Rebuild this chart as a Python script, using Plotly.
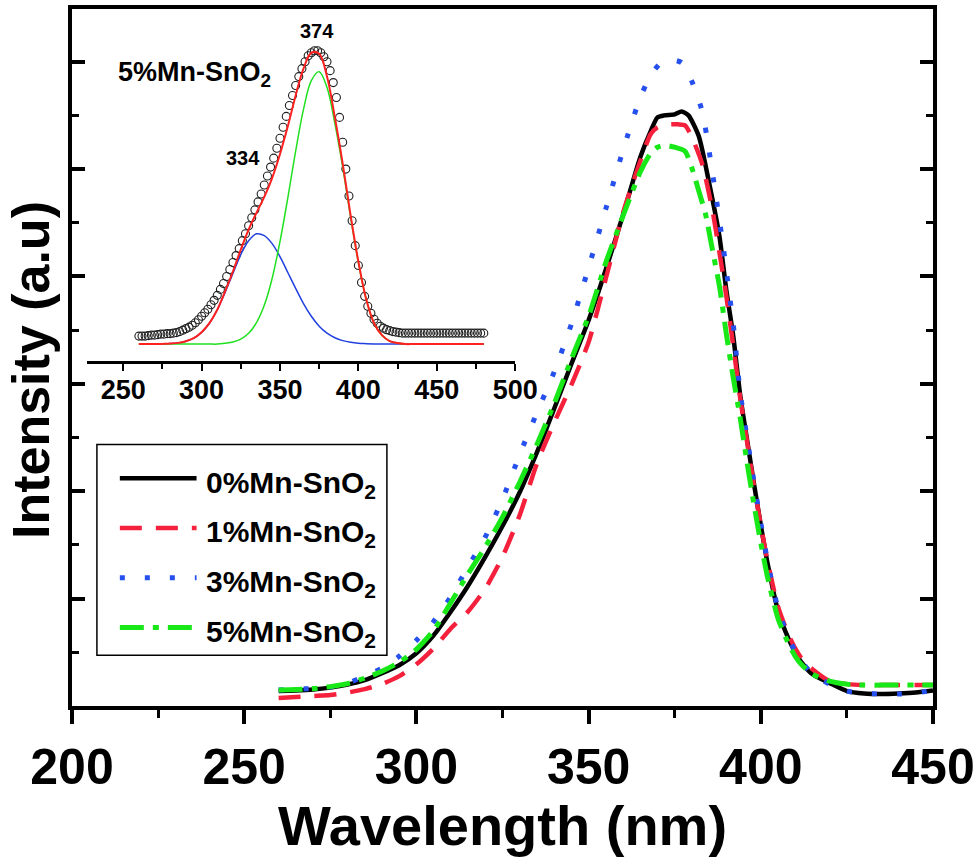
import plotly.graph_objects as go

# ---------------- main spectra (intensity in a.u.) ----------------
wl_0 = [260, 265, 270, 275, 280, 285, 290, 295, 300, 305, 310, 315, 320, 325, 330, 335, 340, 345, 350, 355,
        360, 365, 368, 370, 372, 375, 377, 379, 382, 385, 388, 390, 392, 394, 396, 398, 400, 402, 405, 408,
        410, 412, 415, 420, 425, 430, 435, 440, 445, 450]
int_0 = [15, 15.5, 16.5, 18.5, 21.5, 26, 33, 41, 53, 71, 95, 121, 150, 181, 215, 255, 299, 344, 388, 439,
         494, 552, 578, 592, 594, 595, 598, 594, 573, 526, 472, 418, 372, 313, 268, 224, 182, 143, 96, 68,
         54, 43, 32, 23, 15, 12.5, 12, 12.5, 13.5, 15.5]

wl_1 = [260, 265, 270, 275, 280, 285, 290, 295, 300, 305, 310, 315, 320, 325, 330, 335, 340, 345, 350, 355,
        360, 365, 368, 370, 373, 376, 378, 380, 383, 386, 388, 390, 392, 394, 396, 398, 400, 402, 405, 408,
        410, 412, 415, 420, 425, 430, 435, 440, 445, 450]
int_1 = [8, 9, 10, 11, 13.5, 17, 22, 30, 42, 58, 78, 95, 118, 150, 192, 244, 285, 323, 366, 430,
         496, 548, 575, 582, 585, 585, 584, 572, 545, 498, 456, 412, 362, 310, 266, 222, 182, 145, 100, 72,
         58, 47, 37, 25, 22, 21, 21, 21, 21, 21]

wl_3 = [260, 265, 270, 275, 280, 285, 290, 295, 300, 305, 310, 315, 320, 325, 330, 335, 340, 345, 350, 355,
        360, 365, 368, 371, 374, 377, 380, 383, 385, 387, 389, 391, 392, 394, 396, 398, 400, 402, 405, 408,
        410, 412, 415, 420, 425, 430, 435, 440, 445, 450]
int_3 = [16, 17, 17.5, 19, 23, 30, 38, 50, 66, 85, 110, 140, 170, 208, 253, 295, 336, 384, 441, 500,
         559, 612, 634, 647, 650, 647, 628, 598, 558, 512, 464, 411, 384, 316, 270, 226, 184, 145, 98, 69,
         55, 44, 32, 22, 15, 13, 12, 12, 13, 16]

wl_5 = [260, 265, 270, 275, 280, 285, 290, 295, 300, 305, 310, 315, 320, 325, 330, 335, 340, 345, 350, 355,
        360, 365, 368, 370, 372, 375, 378, 380, 382, 384, 386, 388, 390, 392, 394, 396, 398, 400, 402, 405,
        408, 410, 412, 415, 420, 425, 430, 435, 440, 445, 450]
int_5 = [16, 16.5, 17.5, 19.5, 22.5, 28, 35, 44, 57, 76, 104, 133, 160, 190, 225, 263, 304, 349, 392, 446,
         493, 537, 556, 562, 564, 562, 558, 541, 518, 494, 458, 422, 374, 330, 290, 245, 203, 164, 129, 88,
         63, 50, 41, 32, 25, 22, 21, 21, 21, 21, 21]

series_names = ["0%Mn-SnO<sub>2</sub>", "1%Mn-SnO<sub>2</sub>", "3%Mn-SnO<sub>2</sub>", "5%Mn-SnO<sub>2</sub>"]
series_x = [wl_0, wl_1, wl_3, wl_5]
series_y = [int_0, int_1, int_3, int_5]
series_color = ["#000000", "#f5203c", "#2550ee", "#18e818"]
series_dash = ["solid", "22px,14px", "5px,20px", "24px,9px,6px,9px"]
series_width = [4.5, 4.5, 5, 5]

# ---------------- inset: 5% Mn-SnO2 with Gaussian fit ----------------
wl_c = list(range(260, 482, 2))
int_c = [8, 8, 8, 8.5, 9, 9, 9.5, 10, 10, 10.5, 10.5, 11, 11.5, 12.5, 14, 15.5, 17, 19, 21.5, 24.5,
         28, 31.5, 35, 39.5, 44, 49, 55, 61, 68, 75, 82, 89, 96, 104, 111, 119, 127, 135, 143, 151,
         160, 169, 178, 187, 197, 207, 218, 229, 240, 250, 260, 269, 277, 284, 290, 293, 295, 295, 293, 289,
         284, 275, 263, 248, 228, 203, 176, 149, 124, 99, 79, 62, 48, 38, 31, 25, 21, 18, 16, 14.5,
         13.5, 12.5, 12, 11.5, 11, 11, 11, 11, 11, 11, 11, 11, 11, 11, 11, 11, 11, 11, 11, 11,
         11, 11, 11, 11, 11, 11, 11, 11, 11, 11, 11]

wl_fit = list(range(260, 485, 5))
fit_blue = [0, 0, 0, 0.2, 0.5, 1.2, 2.9, 6, 11.8, 21, 34.5, 52, 71, 90, 104, 110.9, 109, 101, 88, 72,
            56, 40.8, 28, 18, 11, 6.4, 3.5, 1.8, 0.8, 0.4, 0.15, 0, 0, 0, 0, 0, 0, 0, 0, 0,
            0, 0, 0, 0, 0]
fit_green = [0, 0, 0, 0, 0, 0, 0, 0, 0, 0, 0, 0.85, 2.1, 5, 10.8, 21.5, 39, 66, 103, 147,
             194, 236, 265, 274, 258, 222, 178, 128, 82, 45, 21, 9, 3, 1, 0, 0, 0, 0, 0, 0,
             0, 0, 0, 0, 0]
fit_sum = [0, 0, 0, 0.2, 0.5, 1.2, 2.9, 6, 12, 21, 34.5, 53, 73, 95, 115, 132, 148, 167, 191, 219,
           250, 277, 293, 292, 269, 228, 181.5, 130, 83, 45, 21, 9, 3, 1, 0, 0, 0, 0, 0, 0,
           0, 0, 0, 0, 0]

FONT = "Liberation Sans"

fig = go.Figure()

for name, xs, ys, col, dash, w in zip(series_names, series_x, series_y, series_color, series_dash, series_width):
    fig.add_trace(go.Scatter(x=xs, y=ys, mode="lines", name=name,
                             line=dict(color=col, dash=dash, width=w, shape="spline", smoothing=0.6),
                             xaxis="x", yaxis="y", showlegend=False))

fig.add_trace(go.Scatter(x=wl_c, y=int_c, mode="markers", name="5%Mn-SnO2 data",
                         marker=dict(symbol="circle-open", size=8, color="#202020", line=dict(width=1.1)),
                         xaxis="x2", yaxis="y2", showlegend=False))
fig.add_trace(go.Scatter(x=wl_fit, y=fit_blue, mode="lines", name="334 nm",
                         line=dict(color="#2040e0", width=1.5, shape="spline"),
                         xaxis="x2", yaxis="y2", showlegend=False))
fig.add_trace(go.Scatter(x=wl_fit, y=fit_green, mode="lines", name="374 nm",
                         line=dict(color="#20e020", width=1.5, shape="spline"),
                         xaxis="x2", yaxis="y2", showlegend=False))
fig.add_trace(go.Scatter(x=wl_fit, y=fit_sum, mode="lines", name="fit",
                         line=dict(color="#ff2020", width=2, shape="spline"),
                         xaxis="x2", yaxis="y2", showlegend=False))

# pixel helpers for paper coordinates (plot area 72..936 x 5..706)
def px(x):
    return (x - 72) / 864.0

def py(y):
    return (706 - y) / 701.0

shapes = []
annotations = []

# manual legend box
shapes.append(dict(type="rect", xref="paper", yref="paper", x0=px(97), x1=px(388), y0=py(655), y1=py(443),
                   line=dict(color="black", width=1.5), fillcolor="white", layer="above"))
row_y = [477, 527, 577, 627]
for name, col, dash, w, ry in zip(series_names, series_color, series_dash, series_width, row_y):
    shapes.append(dict(type="line", xref="paper", yref="paper", x0=px(120), x1=px(197), y0=py(ry), y1=py(ry),
                       line=dict(color=col, dash=dash, width=w), layer="above"))
    annotations.append(dict(text=name, xref="paper", yref="paper", x=px(204), y=py(ry + 6),
                            xanchor="left", yanchor="middle", showarrow=False,
                            font=dict(family=FONT, size=30, weight="bold", color="black")))

# inset labels
annotations.append(dict(text="5%Mn-SnO<sub>2</sub>", xref="x2", yref="y2", x=245.5, y=272,
                        xanchor="left", yanchor="middle", showarrow=False,
                        font=dict(family=FONT, size=27, weight="bold", color="black")))
annotations.append(dict(text="374", xref="x2", yref="y2", x=373.4, y=315, xanchor="center", yanchor="middle",
                        showarrow=False, font=dict(family=FONT, size=20, weight="bold", color="black")))
annotations.append(dict(text="334", xref="x2", yref="y2", x=326.4, y=187, xanchor="center", yanchor="middle",
                        showarrow=False, font=dict(family=FONT, size=20, weight="bold", color="black")))

# axis titles
annotations.append(dict(text="Wavelength (nm)", xref="paper", yref="paper", x=px(504), y=py(826),
                        xanchor="center", yanchor="middle", showarrow=False,
                        font=dict(family=FONT, size=56, weight="bold", color="black")))
annotations.append(dict(text="Intensity (a.u)", xref="paper", yref="paper", x=px(31), y=py(368),
                        xanchor="center", yanchor="middle", showarrow=False, textangle=-90,
                        font=dict(family=FONT, size=52, weight="bold", color="black")))

fig.update_layout(
    width=980, height=859,
    margin=dict(l=72, r=44, t=5, b=153),
    paper_bgcolor="white", plot_bgcolor="rgba(0,0,0,0)",
    showlegend=False,
    shapes=shapes, annotations=annotations,
    xaxis=dict(range=[200, 450], domain=[0, 1], anchor="y",
               showline=True, linewidth=4, linecolor="black", mirror=True,
               ticks="outside", ticklen=14, tickwidth=3.5, tickcolor="black",
               tickmode="linear", tick0=200, dtick=50,
               minor=dict(ticks="outside", ticklen=8, tickwidth=3, tickcolor="black", dtick=25, showgrid=False),
               showgrid=False, zeroline=False,
               tickfont=dict(family=FONT, size=50, weight="bold", color="black")),
    yaxis=dict(range=[0, 701], domain=[0, 1], anchor="x",
               showline=True, linewidth=4, linecolor="black", mirror="ticks",
               ticks="inside", ticklen=13, tickwidth=3.5, tickcolor="black",
               tickmode="linear", tick0=0, dtick=108,
               minor=dict(ticks="inside", ticklen=7, tickwidth=3, tickcolor="black", dtick=54, showgrid=False),
               showticklabels=False, showgrid=False, zeroline=False),
    xaxis2=dict(range=[226.7, 500], domain=[px(86.7), px(516.7)], anchor="y2",
                showline=True, linewidth=2.5, linecolor="black",
                ticks="outside", ticklen=7, tickwidth=2, tickcolor="black",
                tickmode="linear", tick0=250, dtick=50, ticklabelstandoff=-4,
                minor=dict(ticks="outside", ticklen=5, tickwidth=2, tickcolor="black", dtick=25, showgrid=False),
                showgrid=False, zeroline=False,
                tickfont=dict(family=FONT, size=27, weight="bold", color="black")),
    yaxis2=dict(range=[-17, 337], domain=[py(359), py(5)], anchor="x2", visible=False),
)

fig.write_html("out.html")
